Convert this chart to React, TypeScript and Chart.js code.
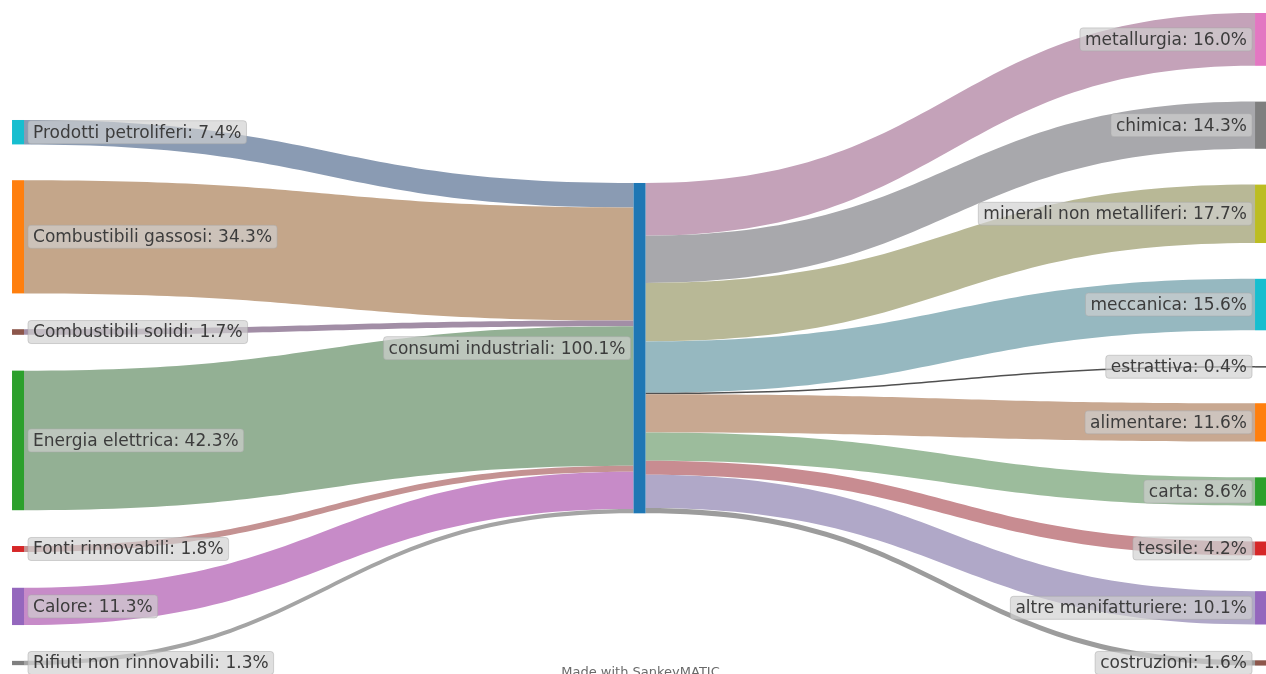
import { useEffect, useRef } from 'react';
import { Chart, registerables } from 'chart.js';

Chart.register(...registerables);

// Energy sources feeding industrial consumption (percent of total)
const sourceLabels = [
  'Prodotti petroliferi',
  'Combustibili gassosi',
  'Combustibili solidi',
  'Energia elettrica',
  'Fonti rinnovabili',
  'Calore',
  'Rifiuti non rinnovabili',
];
const sourceValues = [7.4, 34.3, 1.7, 42.3, 1.8, 11.3, 1.3];

const hubLabel = 'consumi industriali';

// Industrial sectors using that energy (percent of total)
const targetLabels = [
  'metallurgia',
  'chimica',
  'minerali non metalliferi',
  'meccanica',
  'estrattiva',
  'alimentare',
  'carta',
  'tessile',
  'altre manifatturiere',
  'costruzioni',
];
const targetValues = [16.0, 14.3, 17.7, 15.6, 0.4, 11.6, 8.6, 4.2, 10.1, 1.6];

// Colours
const sourceNodeColors = ['#17becf', '#ff7f0e', '#8c564b', '#2ca02c', '#d62728', '#9467bd', '#7f7f7f'];
const sourceFlowColors = ['#8a9bb3', '#c4a68a', '#a28ea6', '#93b094', '#c49292', '#c78bc8', '#a4a4a4'];
const hubColor = '#1f77b4';
const targetNodeColors = ['#e377c2', '#7f7f7f', '#bcbd22', '#17becf', '#4a4a4a', '#ff7f0e', '#2ca02c', '#d62728', '#9467bd', '#8c564b'];
const targetFlowColors = ['#c4a2b9', '#a8a8ac', '#b8b896', '#96b8c0', '#505050', '#c8a891', '#9cbc9c', '#c88c91', '#b0a8c8', '#9c9c9c'];

// Layout (value units on the y axis; columns 0, 1, 2 on the x axis)
const Y_MAX = 204.24;
const NODE_GAP = 10.85;
const SOURCE_TOP = 36.36;
const HUB_TOP = 55.45;
const TARGET_TOP = 3.94;
const NODE_WIDTH = 12;
const FONT = '17px "DejaVu Sans", "Liberation Sans", Arial, sans-serif';

const pct = (v: number) => `${v.toFixed(1)}%`;

function stack(values: number[], top: number) {
  let y = top;
  return values.map((v) => {
    const n = { y0: y, y1: y + v };
    y += v + NODE_GAP;
    return n;
  });
}

function drawLabelBox(ctx: CanvasRenderingContext2D, text: string, x: number, yc: number, align: 'left' | 'right') {
  ctx.font = FONT;
  const w = ctx.measureText(text).width;
  const padX = 5;
  const h = 23;
  const bw = w + padX * 2;
  const bx = align === 'left' ? x : x - bw;
  const by = yc - h / 2;
  ctx.beginPath();
  ctx.roundRect(bx, by, bw, h, 3);
  ctx.fillStyle = 'rgba(208,208,208,0.68)';
  ctx.fill();
  ctx.strokeStyle = 'rgba(170,170,170,0.5)';
  ctx.lineWidth = 1;
  ctx.stroke();
  ctx.fillStyle = '#3c3c3c';
  ctx.textBaseline = 'middle';
  ctx.textAlign = 'left';
  ctx.fillText(text, bx + padX, yc + 1);
}

function flowPath(ctx: CanvasRenderingContext2D, x0: number, a0: number, a1: number, x1: number, b0: number, b1: number) {
  const xm = (x0 + x1) / 2;
  ctx.beginPath();
  ctx.moveTo(x0, a0);
  ctx.bezierCurveTo(xm, a0, xm, b0, x1, b0);
  ctx.lineTo(x1, b1);
  ctx.bezierCurveTo(xm, b1, xm, a1, x0, a1);
  ctx.closePath();
}

const sankeyPlugin = {
  id: 'sankeyFlows',
  afterDatasetsDraw(chart: any) {
    const ctx: CanvasRenderingContext2D = chart.ctx;
    const xs = chart.scales.x;
    const ys = chart.scales.y;
    const Y = (v: number) => ys.getPixelForValue(v);
    const hw = NODE_WIDTH / 2;

    const hubValue = sourceValues.reduce((a, b) => a + b, 0);
    const srcNodes = stack(sourceValues, SOURCE_TOP);
    const tgtNodes = stack(targetValues, TARGET_TOP);
    const hub = { y0: HUB_TOP, y1: HUB_TOP + hubValue };

    const xSrc = xs.getPixelForValue(0);
    const xHub = xs.getPixelForValue(1);
    const xTgt = xs.getPixelForValue(2);

    ctx.save();

    // incoming flows
    let acc = hub.y0;
    sourceValues.forEach((v, i) => {
      const n = srcNodes[i];
      const p0 = Y(n.y0);
      let p1 = Y(n.y1);
      const q0 = Y(acc);
      let q1 = Y(acc + v);
      if (p1 - p0 < 1) p1 = p0 + 1;
      if (q1 - q0 < 1) q1 = q0 + 1;
      flowPath(ctx, xSrc + hw, p0, p1, xHub - hw, q0, q1);
      ctx.fillStyle = sourceFlowColors[i];
      ctx.fill();
      acc += v;
    });

    // outgoing flows
    acc = hub.y0;
    targetValues.forEach((v, i) => {
      const n = tgtNodes[i];
      const p0 = Y(acc);
      let p1 = Y(acc + v);
      const q0 = Y(n.y0);
      let q1 = Y(n.y1);
      if (p1 - p0 < 1) p1 = p0 + 1;
      if (q1 - q0 < 1) q1 = q0 + 1;
      flowPath(ctx, xHub + hw, p0, p1, xTgt - hw, q0, q1);
      ctx.fillStyle = targetFlowColors[i];
      ctx.fill();
      acc += v;
    });

    // nodes
    srcNodes.forEach((n, i) => {
      ctx.fillStyle = sourceNodeColors[i];
      ctx.fillRect(xSrc - hw, Y(n.y0), NODE_WIDTH, Math.max(1.5, Y(n.y1) - Y(n.y0)));
    });
    ctx.fillStyle = hubColor;
    ctx.fillRect(xHub - hw, Y(hub.y0), NODE_WIDTH, Y(hub.y1) - Y(hub.y0));
    tgtNodes.forEach((n, i) => {
      ctx.fillStyle = targetNodeColors[i];
      ctx.fillRect(xTgt - hw, Y(n.y0), NODE_WIDTH, Math.max(1.5, Y(n.y1) - Y(n.y0)));
    });

    // labels
    srcNodes.forEach((n, i) => {
      drawLabelBox(ctx, `${sourceLabels[i]}: ${pct(sourceValues[i])}`, xSrc + hw + 4, (Y(n.y0) + Y(n.y1)) / 2, 'left');
    });
    drawLabelBox(ctx, `${hubLabel}: ${pct(hubValue)}`, xHub - hw - 3, (Y(hub.y0) + Y(hub.y1)) / 2, 'right');
    tgtNodes.forEach((n, i) => {
      drawLabelBox(ctx, `${targetLabels[i]}: ${pct(targetValues[i])}`, xTgt - hw - 3, (Y(n.y0) + Y(n.y1)) / 2, 'right');
    });

    // credit line
    ctx.font = '13px "DejaVu Sans", Arial, sans-serif';
    ctx.fillStyle = '#6a6a6a';
    ctx.textAlign = 'center';
    ctx.textBaseline = 'alphabetic';
    ctx.fillText('Made with SankeyMATIC', xs.getPixelForValue(1) + 1, chart.height + 2);

    ctx.restore();
  },
};

export default function App() {
  const canvasRef = useRef<HTMLCanvasElement | null>(null);

  useEffect(() => {
    const canvas = canvasRef.current;
    if (!canvas) return;
    const chart = new Chart(canvas, {
      type: 'scatter',
      data: { datasets: [{ data: [], pointRadius: 0 }] },
      options: {
        animation: false,
        responsive: false,
        devicePixelRatio: 1,
        layout: { padding: 0 },
        plugins: { legend: { display: false }, tooltip: { enabled: false } },
        scales: {
          x: { type: 'linear', min: -0.029, max: 2.008, display: false },
          y: { type: 'linear', min: 0, max: Y_MAX, reverse: true, display: false },
        },
      },
      plugins: [sankeyPlugin],
    });
    return () => chart.destroy();
  }, []);

  return (
    <div style={{ position: 'fixed', left: 0, top: 0, width: 1266, height: 674, background: '#fff' }}>
      <canvas ref={canvasRef} width={1266} height={674} />
    </div>
  );
}
